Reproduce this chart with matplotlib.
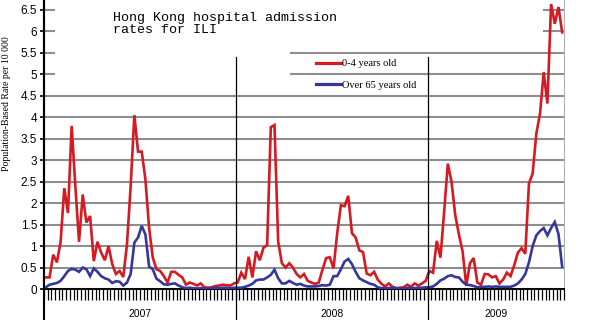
import matplotlib
matplotlib.use("Agg")
import matplotlib.pyplot as plt
from matplotlib.patches import Rectangle
from matplotlib.lines import Line2D
import numpy as np

# ---- data (weekly, 2007 wk1 .. 2009 wk37) ----
years = ["2007", "2008", "2009"]
weeks_per_year = [52, 52, 37]

red_2007 = [0.27, 0.27, 0.8, 0.62, 1.1, 2.35, 1.77, 3.8, 2.4, 1.1,
            2.2, 1.55, 1.7, 0.65, 1.1, 0.85, 0.67, 1.0, 0.58, 0.35,
            0.42, 0.28, 1.04, 2.4, 4.05, 3.2, 3.2, 2.55, 1.42, 0.73,
            0.46, 0.42, 0.3, 0.15, 0.4, 0.4, 0.33, 0.27, 0.1, 0.15,
            0.12, 0.08, 0.13, 0.04, 0.03, 0.04, 0.07, 0.08, 0.1, 0.09,
            0.08, 0.13]
red_2008 = [0.15, 0.38, 0.23, 0.75, 0.27, 0.88, 0.67, 0.96, 1.02, 3.77,
            3.82, 1.1, 0.6, 0.5, 0.6, 0.5, 0.35, 0.27, 0.35, 0.19,
            0.15, 0.12, 0.15, 0.45, 0.72, 0.74, 0.48, 1.3, 1.95, 1.93,
            2.17, 1.3, 1.2, 0.9, 0.86, 0.36, 0.32, 0.4, 0.22, 0.12,
            0.06, 0.13, 0.05, 0.02, 0.03, 0.04, 0.1, 0.05, 0.13, 0.08,
            0.13, 0.19]
red_2009 = [0.42, 0.38, 1.12, 0.73, 1.8, 2.92, 2.5, 1.73, 1.27, 0.88,
            0.08, 0.6, 0.72, 0.15, 0.1, 0.35, 0.34, 0.27, 0.3, 0.13,
            0.22, 0.38, 0.3, 0.55, 0.85, 0.95, 0.82, 2.46, 2.69, 3.62,
            4.09, 5.05, 4.32, 6.64, 6.18, 6.57, 5.98]

blue_2007 = [0.04, 0.1, 0.12, 0.14, 0.19, 0.3, 0.42, 0.47, 0.45, 0.4,
             0.5, 0.46, 0.3, 0.48, 0.4, 0.3, 0.25, 0.22, 0.14, 0.18,
             0.17, 0.08, 0.15, 0.35, 1.08, 1.2, 1.47, 1.27, 0.52, 0.46,
             0.24, 0.18, 0.11, 0.1, 0.12, 0.13, 0.08, 0.04, 0.02, 0.03,
             0.02, 0.01, 0.02, 0.01, 0.01, 0.02, 0.02, 0.02, 0.03, 0.03,
             0.02, 0.03]
blue_2008 = [0.03, 0.03, 0.05, 0.08, 0.12, 0.2, 0.22, 0.22, 0.27, 0.33,
             0.45, 0.25, 0.13, 0.13, 0.19, 0.14, 0.1, 0.12, 0.08, 0.06,
             0.06, 0.06, 0.07, 0.09, 0.08, 0.1, 0.3, 0.3, 0.46, 0.64,
             0.7, 0.58, 0.4, 0.25, 0.2, 0.16, 0.12, 0.1, 0.04, 0.02,
             0.02, 0.02, 0.03, 0.02, 0.01, 0.01, 0.02, 0.03, 0.02, 0.03,
             0.03, 0.04]
blue_2009 = [0.04, 0.06, 0.12, 0.2, 0.24, 0.3, 0.32, 0.28, 0.27, 0.17,
             0.1, 0.09, 0.07, 0.04, 0.05, 0.05, 0.06, 0.05, 0.06, 0.05,
             0.05, 0.05, 0.05, 0.08, 0.13, 0.22, 0.35, 0.62, 1.0, 1.25,
             1.35, 1.42, 1.25, 1.42, 1.56, 1.28, 0.52]

series_labels = ["0-4 years old", "Over 65 years old"]
ytick_vals = [0, 0.5, 1, 1.5, 2, 2.5, 3, 3.5, 4, 4.5, 5, 5.5, 6, 6.5]
ytick_labels = ["0", "0.5", "1", "1.5", "2", "2.5", "3", "3.5", "4", "4.5",
                "5", "5.5", "6", "6.5"]
title_lines = ["Hong Kong hospital admission", "rates for ILI"]
ylabel = "Population-Based Rate per 10 000"

RED = "#d51a22"
BLUE = "#35379a"
GRID = "#8e8e8e"

red = red_2007 + red_2008 + red_2009
blue = blue_2007 + blue_2008 + blue_2009
n = len(red)
x = np.arange(n) + 0.5

W, H = 600, 320
fig = plt.figure(figsize=(6, 3.2), dpi=100)
fig.patch.set_facecolor("white")
ax_l, ax_r, ax_top, ax_bot = 44, 564, 0, 289
ax = fig.add_axes([ax_l / W, 1 - ax_bot / H, (ax_r - ax_l) / W, (ax_bot - ax_top) / H])
ymax = 6.5 * 289 / 279
ax.set_xlim(0, n)
ax.set_ylim(0, ymax)

ax.set_axisbelow(True)
ax.set_yticks(ytick_vals)
ax.set_yticklabels(ytick_labels, fontsize=8.5, family="Liberation Sans")
ax.yaxis.grid(True, color=GRID, lw=1.5)
ax.tick_params(axis="y", direction="out", length=3, width=1.2, pad=2, color="black")
ax.set_xticks(np.arange(0, n + 1))
ax.set_xticklabels([])
ax.tick_params(axis="x", direction="out", length=8, width=0.9, color="black")

for s in ["top"]:
    ax.spines[s].set_visible(False)
ax.spines["right"].set_color("#b0b0b0")
ax.spines["right"].set_linewidth(0.8)
ax.spines["bottom"].set_linewidth(1.4)
ax.spines["left"].set_linewidth(1.5)

# white boxes (title/legend areas) hiding gridlines
def px2ax(px, py):
    return (px - ax_l) / (ax_r - ax_l), (ax_bot - py) / (ax_bot - ax_top)

x0, y0 = px2ax(55, 42)
x1, y1 = px2ax(543, 0)
ax.add_patch(Rectangle((x0, y0), x1 - x0, y1 - y0, transform=ax.transAxes,
                       facecolor="white", edgecolor="none", zorder=1))
x0, y0 = px2ax(55, 85)
x1, y1 = px2ax(290, 42)
ax.add_patch(Rectangle((x0, y0), x1 - x0, y1 - y0, transform=ax.transAxes,
                       facecolor="white", edgecolor="none", zorder=1))

ax.plot(x, red, color=RED, lw=1.9, zorder=3, solid_joinstyle="miter")
ax.plot(x, blue, color=BLUE, lw=1.9, zorder=3, solid_joinstyle="miter")

# left axis extension and year separators
below = (H - ax_bot) / (ax_bot - ax_top)
ax.axvline(0, ymin=-below, ymax=1, color="black", lw=1.5, clip_on=False, zorder=4)
start = 0
for i, (yr, nw) in enumerate(zip(years, weeks_per_year)):
    if i > 0:
        ax.axvline(start, ymin=-below, ymax=(ax_bot - 57) / ax_bot, color="black",
                   lw=0.9, clip_on=False, zorder=4)
    ax.text(start + nw / 2, -25 / 289 * ymax, yr, ha="center", va="center",
            fontsize=7.5, family="Liberation Sans", clip_on=False)
    start += nw

# title
fig.text(113 / W, 1 - 20.5 / H, title_lines[0], family="Liberation Mono",
         fontsize=9.6, ha="left", va="baseline")
fig.text(113 / W, 1 - 33 / H, title_lines[1], family="Liberation Mono",
         fontsize=9.6, ha="left", va="baseline")

# legend
for lab, col, py in zip(series_labels, [RED, BLUE], [63, 84]):
    fig.add_artist(Line2D([316 / W, 341 / W], [1 - py / H, 1 - py / H],
                          color=col, lw=2.3))
    fig.text(342 / W, 1 - (py + 1) / H, lab, family="Liberation Serif",
             fontsize=7.5, ha="left", va="center")

# y label
fig.text(7 / W, 1 - 104 / H, ylabel, rotation=90, family="Liberation Serif",
         fontsize=7, ha="center", va="center")

fig.savefig("out.png", dpi=100, facecolor="white")
